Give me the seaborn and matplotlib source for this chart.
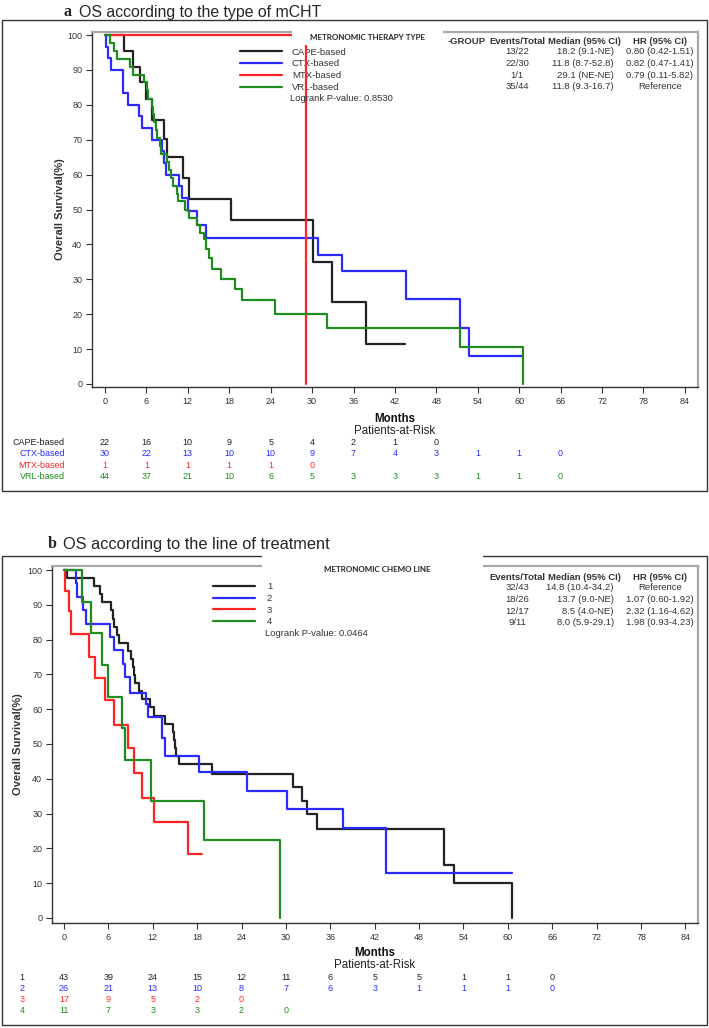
import matplotlib.pyplot as plt
import matplotlib.transforms as mtransforms
from matplotlib.lines import Line2D
from matplotlib.patches import Rectangle
import pandas as pd
import seaborn as sns

W, H = 709, 1028
MONTH_TICKS = list(range(0, 85, 6))

# ---- panel a: type of metronomic chemotherapy ----
a_names = ["CAPE-based", "CTX-based", "MTX-based", "VRL-based"]
a_colors = ["#222222", "#2b2bff", "#ff2424", "#1e8c1e"]

cape_t = [0, 2.75, 4.0, 5.1, 5.9, 6.8, 8.5, 9.0, 11.35, 12.1, 18.2, 30.2, 32.9, 37.8, 43.5]
cape_s = [100, 95.5, 90.9, 86.4, 81.8, 75.6, 70.2, 64.9, 58.9, 52.9, 47.0, 35.0, 23.4, 11.6, 11.6]
ctx_t = [0, 0.15, 0.5, 0.9, 2.6, 3.4, 4.9, 5.4, 6.8, 8.2, 8.6, 8.9, 10.7, 11.1, 12.0, 13.3,
         14.6, 30.9, 34.3, 43.6, 51.4, 52.8, 60.5]
ctx_s = [100, 96.7, 93.3, 90.0, 83.3, 80.0, 76.7, 73.3, 70.0, 66.7, 63.3, 60.0, 56.7, 53.3,
         49.5, 45.6, 41.8, 37.1, 32.4, 24.3, 16.0, 8.0, 8.0]
mtx_t = [0, 29.1]
mtx_s = [100, 0]
vrl_t = [0, 0.7, 1.35, 1.8, 3.6, 4.1, 5.6, 6.1, 6.3, 6.8, 7.0, 7.15, 7.35, 7.6, 7.9, 8.1,
         9.0, 9.3, 9.5, 9.8, 10.4, 10.6, 11.6, 12.1, 13.3, 13.8, 14.3, 14.7, 15.0, 15.5,
         16.8, 18.8, 19.9, 24.7, 32.1, 51.4, 60.6]
vrl_s = [100, 97.7, 95.5, 93.2, 90.9, 88.6, 86.4, 84.1, 81.8, 79.5, 77.3, 75.0, 72.7, 70.5,
         68.2, 65.9, 63.6, 61.4, 59.1, 56.8, 54.5, 52.3, 50.0, 47.7, 45.5, 43.2, 41.5, 38.6,
         36.0, 32.9, 30.1, 27.1, 24.1, 20.1, 16.0, 10.7, 0]

a_risk = [
    [22, 16, 10, 9, 5, 4, 2, 1, 0],
    [30, 22, 13, 10, 10, 9, 7, 4, 3, 1, 1, 0],
    [1, 1, 1, 1, 1, 0],
    [44, 37, 21, 10, 6, 5, 3, 3, 3, 1, 1, 0],
]
a_events = ["13/22", "22/30", "1/1", "35/44"]
a_median = ["18.2 (9.1-NE)", "11.8 (8.7-52.8)", "29.1 (NE-NE)", "11.8 (9.3-16.7)"]
a_hr = ["0.80 (0.42-1.51)", "0.82 (0.47-1.41)", "0.79 (0.11-5.82)", "Reference"]
a_logrank = "Logrank P-value: 0.8530"

# ---- panel b: line of metronomic chemotherapy ----
b_names = ["1", "2", "3", "4"]
b_colors = ["#222222", "#2b2bff", "#ff2424", "#1e8c1e"]

l1_t = [0, 0.4, 4.1, 4.9, 5.2, 6.4, 6.6, 6.8, 7.1, 7.4, 8.7, 9.0, 9.3, 9.5, 9.6, 10.2, 10.5,
        11.6, 12.1, 13.6, 14.7, 14.85, 15.0, 15.1, 15.5, 20.0, 30.9, 32.2, 32.9, 34.2,
        51.3, 52.7, 60.5]
l1_s = [100, 97.7, 95.3, 93.0, 90.7, 88.4, 86.0, 83.7, 81.4, 79.1, 76.7, 74.4, 72.1, 69.8,
        67.4, 65.1, 62.8, 60.5, 58.1, 55.8, 53.5, 51.2, 48.8, 46.5, 44.3, 41.3, 37.7, 33.7,
        29.9, 25.5, 15.2, 10.0, 0]
l2_t = [0, 1.6, 1.8, 2.6, 3.0, 6.2, 6.8, 8.0, 8.2, 8.9, 11.1, 11.4, 13.2, 13.7, 18.3, 24.7,
        30.1, 37.7, 43.5, 60.5]
l2_s = [100, 96.2, 92.3, 88.5, 84.6, 80.8, 76.9, 73.1, 69.2, 64.6, 61.5, 57.7, 51.6, 46.6,
        42.0, 36.6, 31.2, 25.9, 12.8, 12.8]
l3_t = [0, 0.2, 0.7, 0.9, 3.4, 4.2, 5.5, 6.7, 8.7, 9.4, 10.6, 12.1, 16.8, 18.7]
l3_s = [100, 94.1, 88.2, 81.6, 75.1, 68.9, 62.6, 55.6, 48.8, 41.8, 34.6, 27.7, 18.3, 18.3]
l4_t = [0, 2.5, 3.7, 5.2, 5.9, 7.8, 8.2, 11.8, 18.9, 29.2]
l4_s = [100, 90.9, 81.8, 72.7, 63.6, 54.5, 45.4, 33.7, 22.4, 0]

b_risk = [
    [43, 39, 24, 15, 12, 11, 6, 5, 5, 1, 1, 0],
    [26, 21, 13, 10, 8, 7, 6, 3, 1, 1, 1, 0],
    [17, 9, 5, 2, 0],
    [11, 7, 3, 3, 2, 0],
]
b_events = ["32/43", "18/26", "12/17", "9/11"]
b_median = ["14.8 (10.4-34.2)", "13.7 (9.0-NE)", "8.5 (4.0-NE)", "8.0 (5.9-29.1)"]
b_hr = ["Reference", "1.07 (0.60-1.92)", "2.32 (1.16-4.62)", "1.98 (0.93-4.23)"]
b_logrank = "Logrank P-value: 0.0464"

sns.set_style("ticks")
plt.rcParams["font.family"] = ["Liberation Sans", "DejaVu Sans"]
TXT = "#333333"

fig = plt.figure(figsize=(W / 100, H / 100), dpi=100)


def fx(px):
    return px / W


def fy(py):
    return 1 - py / H


def km_panel(box, ylim, xlim, times, surv, names, colors):
    """Draws the KM step curves of one panel, returns the axes."""
    left, top, right, bottom = box
    ax = fig.add_axes([fx(left), fy(bottom), fx(right) - fx(left), fy(top) - fy(bottom)])
    rows = []
    for name, t, s in zip(names, times, surv):
        rows += [{"group": name, "month": a, "surv": b} for a, b in zip(t, s)]
    df = pd.DataFrame(rows)
    sns.lineplot(data=df, x="month", y="surv", hue="group", hue_order=names,
                 palette=dict(zip(names, colors)), estimator=None, sort=False,
                 drawstyle="steps-post", lw=1.6, legend=False, ax=ax)
    ax.set_xlim(*xlim)
    ax.set_ylim(*ylim)
    ax.set_xticks(MONTH_TICKS)
    ax.set_yticks(range(0, 101, 10))
    ax.set_xlabel("")
    ax.set_ylabel("")
    ax.tick_params(labelsize=6.5, length=4, width=0.8, colors=TXT, pad=3)
    for side in ["left", "bottom"]:
        ax.spines[side].set_color(TXT)
        ax.spines[side].set_linewidth(1.0)
    for side in ["top", "right"]:
        ax.spines[side].set_visible(True)
        ax.spines[side].set_color("#a8a8a8")
        ax.spines[side].set_linewidth(1.6)
    return ax


def legend_block(ax, names, colors, x0, y0, textpad):
    leg = ax.legend([Line2D([], [], color=c, lw=1.6) for c in colors], names,
                    loc="upper left", bbox_to_anchor=(fx(x0), fy(y0)),
                    bbox_transform=fig.transFigure, frameon=False, fontsize=6.8,
                    handlelength=4.4, handletextpad=textpad, labelspacing=0.3,
                    borderpad=0, borderaxespad=0)
    for t in leg.get_texts():
        t.set_color(TXT)
    leg.set_zorder(1.5)


def stats_table(header_y, row_ys, events, median, hr, group_head):
    if group_head:
        fig.text(fx(467), fy(header_y), "-GROUP", fontsize=6.8, fontweight="bold",
                 color=TXT, ha="center", va="center")
    for x, head in [(517, "Events/Total"), (584, "Median (95% CI)"), (660, "HR (95% CI)")]:
        fig.text(fx(x), fy(header_y), head, fontsize=6.8, fontweight="bold",
                 color=TXT, ha="center", va="center")
    for y, e, m, h in zip(row_ys, events, median, hr):
        fig.text(fx(517), fy(y), e, fontsize=6.8, color=TXT, ha="center", va="center")
        fig.text(fx(614), fy(y), m, fontsize=6.8, color=TXT, ha="right", va="center")
        fig.text(fx(660), fy(y), h, fontsize=6.8, color=TXT, ha="center", va="center")


def at_risk(ax, row_ys, risk, colors, labels, label_x, label_ha):
    trans = mtransforms.blended_transform_factory(ax.transData, fig.transFigure)
    for y, counts, c, lab in zip(row_ys, risk, colors, labels):
        fig.text(fx(label_x), fy(y), lab, fontsize=6.5, color=c, ha=label_ha, va="center")
        for m, v in zip(MONTH_TICKS, counts):
            ax.text(m, fy(y), str(v), transform=trans, fontsize=6.5, color=c,
                    ha="center", va="center", clip_on=False)


def frame(x0, y0, x1, y1):
    fig.add_artist(Rectangle((fx(x0), fy(y1)), fx(x1) - fx(x0), fy(y0) - fy(y1),
                             transform=fig.transFigure, fill=False, ec="#333333",
                             lw=1.0, zorder=1))


def white_box(x0, y0, x1, y1):
    fig.add_artist(Rectangle((fx(x0), fy(y1)), fx(x1) - fx(x0), fy(y0) - fy(y1),
                             transform=fig.transFigure, fc="white", ec="none", zorder=2))


# ================= panel a =================
frame(2, 20, 707, 491)
ax_a = km_panel((92, 32, 698, 387), (-0.86, 100.86), (-1.88, 85.9),
                [cape_t, ctx_t, mtx_t, vrl_t], [cape_s, ctx_s, mtx_s, vrl_s],
                a_names, a_colors)
legend_block(ax_a, a_names, a_colors, 240, 47.5, 1.1)
white_box(292, 25, 443, 45)
fig.text(fx(367), fy(37), "METRONOMIC THERAPY TYPE", fontsize=5.8, fontweight="bold",
         family=["Lato", "DejaVu Sans"], ha="center", va="center", zorder=3)
fig.text(fx(290), fy(98.5), a_logrank, fontsize=6.8, color=TXT, va="center")
stats_table(41, [52, 63.5, 75, 86.5], a_events, a_median, a_hr, True)
fig.text(fx(64), fy(12), "a", fontsize=11.5, fontweight="bold",
         family=["Liberation Serif", "DejaVu Serif"], va="center")
fig.text(fx(79), fy(12), "OS according to the type of mCHT", fontsize=11.4, va="center")
fig.text(fx(60), fy(209.5), "Overall Survival(%)", fontsize=8, fontweight="bold",
         color=TXT, rotation=90, ha="center", va="center")
fig.text(fx(395), fy(419), "Months", fontsize=8.3, fontweight="bold", color="#111111",
         ha="center", va="center")
fig.text(fx(395), fy(431), "Patients-at-Risk", fontsize=8.3, color="#222222",
         ha="center", va="center")
at_risk(ax_a, [442.7, 454, 465.3, 476.5], a_risk, a_colors, a_names, 65, "right")

# ================= panel b =================
frame(2, 556, 707, 1025)
ax_b = km_panel((52, 566, 698, 923), (-1.44, 101.15), (-1.62, 85.7),
                [l1_t, l2_t, l3_t, l4_t], [l1_s, l2_s, l3_s, l4_s],
                b_names, b_colors)
legend_block(ax_b, b_names, b_colors, 213, 582, 1.3)
white_box(262, 550, 483, 575)
fig.text(fx(377), fy(569), "METRONOMIC CHEMO LINE", fontsize=5.8, fontweight="bold",
         family=["Lato", "DejaVu Sans"], ha="center", va="center", zorder=3)
fig.text(fx(265), fy(633.5), b_logrank, fontsize=6.8, color=TXT, va="center")
stats_table(577.5, [588, 599.5, 611, 622.5], b_events, b_median, b_hr, False)
fig.text(fx(48), fy(544), "b", fontsize=11.5, fontweight="bold",
         family=["Liberation Serif", "DejaVu Serif"], va="center")
fig.text(fx(63), fy(544), "OS according to the line of treatment", fontsize=11.8,
         va="center")
fig.text(fx(18), fy(744.5), "Overall Survival(%)", fontsize=8, fontweight="bold",
         color=TXT, rotation=90, ha="center", va="center")
fig.text(fx(375), fy(953), "Months", fontsize=8.3, fontweight="bold", color="#111111",
         ha="center", va="center")
fig.text(fx(375), fy(965), "Patients-at-Risk", fontsize=8.3, color="#222222",
         ha="center", va="center")
at_risk(ax_b, [977.5, 988.5, 999.5, 1010.5], b_risk, b_colors, b_names, 22, "center")

fig.savefig("out.png", dpi=100)
